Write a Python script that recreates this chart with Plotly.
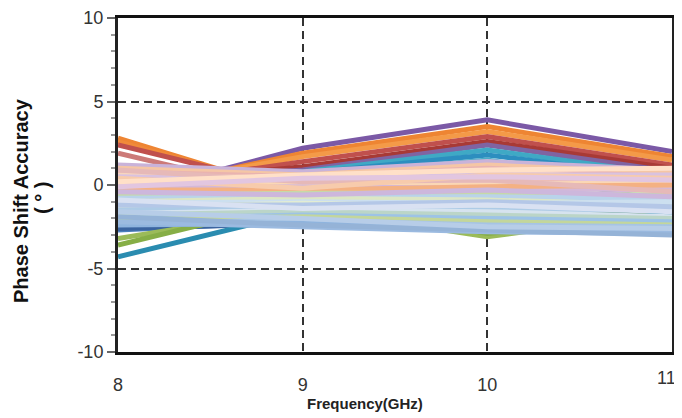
import plotly.graph_objects as go

frequencies = [8, 9, 10, 11]

# Saturated series (drawn first, partly hidden beneath the pastel band)
strong_series = [
    [-0.7, 2.2, 3.9, 2.0],
    [-0.5, 1.9, 3.5, 1.7],
    [-0.3, 1.7, 3.2, 1.5],
    [-0.2, 1.4, 2.9, 1.2],
    [0.0, 1.1, 2.6, 1.0],
    [0.1, 0.9, 2.4, 0.8],
    [2.8, -0.6, 0.5, 0.3],
    [2.6, -0.5, 0.4, 0.2],
    [2.4, -0.3, 0.3, 0.5],
    [1.9, -0.7, 0.2, 0.0],
    [0.6, 0.8, 2.1, 0.6],
    [0.2, 0.7, 1.8, 0.4],
    [-0.2, 0.5, 1.5, -0.2],
    [-2.7, -2.2, 1.1, -1.1],
    [-2.6, -2.3, -1.0, -1.4],
    [-3.2, -1.4, -3.1, -1.6],
    [-3.6, -0.9, -2.9, -1.8],
    [-4.3, -1.6, -2.7, -1.7],
    [-0.6, -1.4, -1.6, -1.0],
    [-0.5, -0.7, -1.0, -2.0],
]
strong_colors = [
    "#7B59A6", "#EE8533", "#F49A48", "#C0504D", "#A83A36", "#8064A2",
    "#EE8533", "#F08A3A", "#C0504D", "#CC7A78", "#3FA9C5", "#2C8EBF",
    "#4BACC6", "#4A7EBB", "#3B64A0", "#9BBB59", "#86AE46", "#2A8CB0",
    "#C0504D", "#4E8A6A",
]

# Pastel series (drawn on top)
pastel_series = [
    [1.2, 0.8, 1.4, 0.9],
    [1.0, 0.6, 1.2, 0.7],
    [0.8, 0.5, 1.0, 0.5],
    [0.6, 0.4, 0.8, 0.3],
    [0.5, 0.3, 0.6, 0.6],
    [0.3, 0.2, 0.4, 0.1],
    [0.1, 0.1, 0.2, -0.1],
    [0.0, 0.0, 0.0, 0.2],
    [-0.2, -0.1, -0.2, -0.3],
    [-0.3, -0.3, -0.1, 0.0],
    [-0.6, -0.5, -0.5, -0.6],
    [-0.8, -0.7, -0.7, -0.8],
    [-1.0, -0.8, -0.9, -1.2],
    [-1.1, -1.0, -1.1, -1.0],
    [-1.3, -1.1, -1.3, -1.4],
    [-1.5, -1.3, -1.5, -1.5],
    [-1.7, -1.5, -1.6, -1.9],
    [-1.8, -1.6, -1.8, -2.0],
    [-2.0, -1.8, -2.0, -2.2],
    [-2.1, -1.9, -2.2, -2.4],
    [-2.3, -2.1, -2.4, -2.5],
    [-2.4, -2.3, -2.6, -2.7],
    [-2.2, -2.5, -2.8, -2.9],
    [0.9, 0.2, 0.3, -0.4],
    [0.4, -0.2, 0.6, 0.4],
    [-0.4, -0.6, -0.3, -0.7],
    [-1.2, -1.2, -1.0, -1.3],
    [-0.9, -1.4, -1.2, -1.6],
    [0.2, 0.6, 0.9, 1.0],
    [-0.1, 0.4, 0.5, 0.3],
    [-1.9, -2.4, -2.7, -3.0],
    [-1.6, -2.0, -2.5, -2.6],
]
pastel_colors = [
    "#C9B3D9", "#F5C6A5", "#E9B3B0", "#F8D5BE", "#D9C2E0", "#F2B8A0",
    "#E7C6CF", "#FAD7B5", "#D4B8D8", "#F4B183", "#C5D9A8", "#B9D3EA",
    "#DCE6C4", "#CCDFEF", "#E3EDD3", "#ADCBE6", "#D6E3EF", "#BBD5C8",
    "#9DC3E6", "#C3D69B", "#A6C4E4", "#8FB4DE", "#9BBAE0", "#E6B9B8",
    "#F7CBAC", "#CDB7DC", "#B4C7E7", "#D9E1F2", "#FFE0C8", "#E2C6E0",
    "#95B3D7", "#B7CDE8",
]

y_ticks = [-10, -5, 0, 5, 10]
y_tick_labels = ["-10", "-5", "0", "5", "10"]
x_ticks = [8, 9, 10, 11]
x_tick_labels = ["8", "9", "10", "11"]

fig = go.Figure()
for vals, col in zip(strong_series, strong_colors):
    fig.add_trace(go.Scatter(x=frequencies, y=vals, mode="lines",
                             line=dict(color=col, width=5), showlegend=False))
for vals, col in zip(pastel_series, pastel_colors):
    fig.add_trace(go.Scatter(x=frequencies, y=vals, mode="lines",
                             line=dict(color=col, width=5), showlegend=False))

font_family = "Arial, Liberation Sans, sans-serif"

# The page body has an 8px default margin; the figure is offset by it.
page_off = 8
fig_w, fig_h = 682 - page_off, 418 - page_off
# plot area in page pixels
plot_l, plot_r, plot_t, plot_b = 118, 672, 18, 352


def px_to_paper(px, py):
    return (px - plot_l) / (plot_r - plot_l), (plot_b - py) / (plot_b - plot_t)


xt_x, xt_y = px_to_paper(365, 403)
yt1_x, yt1_y = px_to_paper(21, 201)
yt2_x, yt2_y = px_to_paper(42, 198)
last_x, last_y = px_to_paper(678, 378)

# the last x label is drawn as an annotation so it stays inside the window
x_text = x_tick_labels[:-1] + [""]

fig.update_layout(
    width=fig_w, height=fig_h,
    margin=dict(l=plot_l - page_off, r=(fig_w + page_off) - plot_r,
                t=plot_t - page_off, b=(fig_h + page_off) - plot_b),
    paper_bgcolor="white", plot_bgcolor="white",
    font=dict(family=font_family, color="#333", size=18),
    xaxis=dict(
        range=[8, 11], tickvals=x_ticks, ticktext=x_text,
        showgrid=True, gridcolor="#333", griddash="8px,5px", gridwidth=2,
        showline=True, linecolor="#111", linewidth=3, mirror=True,
        ticks="outside", ticklen=14, tickcolor="rgba(0,0,0,0)",
        zeroline=False, automargin=False,
    ),
    yaxis=dict(
        range=[-10, 10], tickvals=y_ticks, ticktext=y_tick_labels,
        showgrid=True, gridcolor="#333", griddash="8px,5px", gridwidth=2,
        showline=True, linecolor="#222", linewidth=3, mirror=True,
        ticks="outside", ticklen=8, tickcolor="#666", tickwidth=1.5,
        minor=dict(dtick=1, ticks="outside", ticklen=4, tickcolor="#999", showgrid=False),
        zeroline=False, automargin=False,
    ),
    annotations=[
        dict(text=x_tick_labels[-1], x=last_x, y=last_y, xref="paper", yref="paper",
             xanchor="right", yanchor="middle", showarrow=False,
             font=dict(size=18, color="#333")),
        dict(text="<b>Frequency(GHz)</b>", x=xt_x, y=xt_y, xref="paper", yref="paper",
             xanchor="center", yanchor="middle", showarrow=False,
             font=dict(size=15, color="#222")),
        dict(text="<b>Phase Shift Accuracy</b>", x=yt1_x, y=yt1_y,
             xref="paper", yref="paper", xanchor="center", yanchor="middle",
             showarrow=False, textangle=-90,
             font=dict(size=20, color="#111")),
        dict(text="<b>( ° )</b>", x=yt2_x, y=yt2_y,
             xref="paper", yref="paper", xanchor="center", yanchor="middle",
             showarrow=False, textangle=-90,
             font=dict(size=20, color="#111")),
    ],
)

fig.write_html("out.html")
